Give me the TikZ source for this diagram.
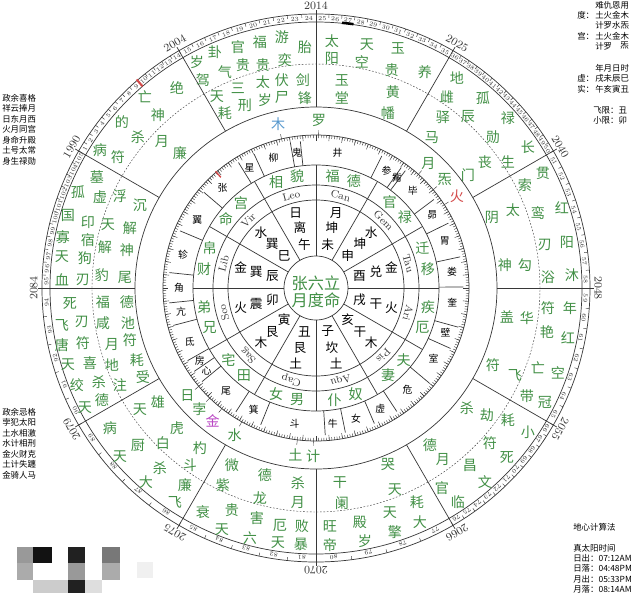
\documentclass[tikz,border=0pt]{standalone}
\usepackage{fontspec}
\newfontfamily\cjk{Noto Sans CJK SC}
\definecolor{sgreen}{RGB}{66,144,70}
\definecolor{sblue}{RGB}{86,152,206}
\definecolor{sred}{RGB}{212,74,74}
\definecolor{spink}{RGB}{186,72,196}
\definecolor{sline}{RGB}{55,55,55}

\tikzset{
  hstar/.style={inner sep=0pt, text=sgreen, font=\cjk\fontsize{10}{10}\selectfont},
  gong/.style={inner sep=0pt, text=sgreen, font=\cjk\fontsize{10}{10}\selectfont},
  yao/.style={inner sep=0pt, font=\cjk\fontsize{10}{10}\selectfont},
  inring/.style={inner sep=0pt, text=black, font=\cjk\fontsize{9}{9}\selectfont},
  xiu/.style={inner sep=0pt, text=black, font=\cjk\fontsize{7}{7}\selectfont},
  zod/.style={inner sep=0pt, font=\fontsize{7.5}{7.5}\selectfont},
  yearlab/.style={inner sep=0pt, font=\fontsize{8}{8}\selectfont},
  agenum/.style={inner sep=0pt, font=\fontsize{4.3}{4.3}\selectfont},
  note/.style={inner sep=0pt, anchor=west, text=black, font=\cjk\fontsize{6}{6}\selectfont},
  ring/.style={draw=sline, line width=0.5pt},
  hair/.style={draw=sline, line width=0.3pt},
}

\begin{document}
\begin{tikzpicture}[x=0.025cm, y=0.025cm, text=sline]
\useasboundingbox (-316,-313) rectangle (324,288);
\fill[white] (-316,-313) rectangle (324,288);

\foreach \rr in {274,266,181,153,123,103,88,32}
  \draw[ring] (0,0) circle[radius=\rr];
\draw[hair, dash pattern=on 1.2pt off 1.2pt] (0,0) circle[radius=224];
\foreach \ang in {0,30,...,330} {
  \draw[ring] (\ang:181) -- (\ang:278);
  \draw[ring] (\ang:32) -- (\ang:123);
}

\foreach \segS/\ageA/\ageB in {150/1/14,120/15/24,90/25/35,60/36/50,30/51/58,0/59/65,-30/66/76,-60/77/80,-90/81/85,-120/86/89,-150/90/94,-180/95/105}{
  \pgfmathsetmacro\cw{30/(\ageB-\ageA+1)}
  \foreach \ag in {\ageA,...,\ageB}{
    \pgfmathsetmacro\bnd{\segS-(\ag-\ageA)*\cw}
    \draw[hair] (\bnd:270.5) -- (\bnd:274);
    \node[agenum, rotate={\bnd-\cw/2-90}] (age\ag) at ({\bnd-\cw/2}:269.6) {\ag};
  }
}
\foreach \ang/\yr [count=\i] in {150/1990,120/2004,90/2014,60/2025,30/2040,0/2048,-30/2055,-60/2066,-90/2070,-120/2075,-150/2079,180/2084}
  \node[yearlab, anchor=south, rotate=\ang-90] (year\i) at (\ang:278) {\yr};
\draw[sred, line width=1.5pt] (130.7:266) -- (130.7:275);
\draw[black, line width=1.8pt] (84.4:266.5) arc[start angle=84.4, end angle=81.9, radius=266.5];

\foreach \ang in {0,...,359}
  \draw[hair] (\ang:153) -- (\ang:150);
\foreach \ang in {0,5,...,355}
  \draw[hair] (\ang:153) -- (\ang:147.5);
\foreach \ang in {174,185.8,194.7,209.5,214.4,219.4,237.1,248,273.6,281.5,293.3,303.2,320,335.8,344.6,0.4,12.2,26.1,36.9,52.7,54.7,63.5,96.1,100,114.8,121.7,139.5,157.2}
  \draw[ring] (\ang:123) -- (\ang:147.5);
\draw[sred, line width=1pt] (130.7:146) -- (130.7:154);
\foreach \ang/\ch [count=\i] in {81/井,98/鬼,108/柳,119/星,133/张,150/翼,166/轸,180/角,190/亢,203/氐,212/房,217/心,229/尾,243/箕,261/斗,277/牛,287/女,298/虚,312/危,329/室,341/壁,354/奎,7/娄,20/胃,32/昴,45/毕,53.7/觜,59/参}
  \node[xiu] (xiu\i) at (\ang:137) {\ch};

\foreach \ang/\ch/\col [count=\i] in {89/罗/sgreen,103/木/sblue,48/月/sgreen,40/炁/sgreen,33/火/sred,-91/计/sgreen,-97/土/sgreen,-119/水/sgreen,-128/金/spink,-134/孛/sgreen,-140/日/sgreen}{
  \draw[hair] (\ang:153) -- (\ang:158);
  \node[yao, text=\col] (yao\i) at (\ang:168) {\ch};
}

\foreach \ang/\zhi/\gua/\xing [count=\i] in {105/午/离/日,75/未/坤/月,45/申/坤/水,15/酉/兑/金,-15/戌/干/火,-45/亥/干/木,-75/子/坎/土,-105/丑/艮/土,-135/寅/艮/木,-165/卯/震/火,165/辰/巽/金,135/巳/巽/水}{
  \node[inring] (zhi\i) at (\ang:45) {\zhi};
  \node[inring] (gua\i) at (\ang:62) {\gua};
  \node[inring] (xing\i) at (\ang:78) {\xing};
}
\foreach \ang/\zz [count=\i] in {105/Leo,75/Can,45/Gem,15/Tau,-15/Ari,-45/Pis,-75/Aqu,-105/Cap,-135/Sag,-165/Sco,165/Lib,135/Vir}
  \node[zod, rotate=\ang-90] (zod\i) at (\ang:95.5) {\zz};
\foreach \ang/\ca/\cb [count=\i] in {137/命/宫,165/财/帛,195/兄/弟,225/田/宅,255/男/女,285/奴/仆,315/夫/妻,345/疾/厄,15/迁/移,44/官/禄,76/福/德,105/相/貌}{
  \node[gong] (gongA\i) at ({\ang+5.5}:113.5) {\ca};
  \node[gong] (gongB\i) at ({\ang-5.5}:113.5) {\cb};
}
\node[hstar, font=\cjk\fontsize{11.5}{11.5}\selectfont] (ming1) at (0,5) {张六立};
\node[hstar, font=\cjk\fontsize{11.5}{11.5}\selectfont] (ming2) at (0,-12) {月度命};

\begin{scope}[shift={(-316,288)}, yscale=-1]
\foreach \x/\y/\ch [count=\i] in {
  197/62/岁, 203/80/驾, 215/52/卦, 225/72/气, 238/47/官, 243/65/贵, 260/42/福, 263/65/贵, 282/37/游, 285/60/奕, 305/47/胎,
  217/97/天, 225/113/耗, 238/88/三, 245/105/刑, 263/82/太, 265/100/岁, 282/80/伏, 282/97/尸, 303/80/剑, 305/98/锋,
  332/41/太, 332/58/阳, 367/45/天, 362/62/空, 398/48/玉, 392/70/贵, 425/72/养,
  342/80/玉, 342/98/堂, 393/92/黄, 388/113/幡,
  457/78/地, 447/97/雌, 483/98/孤, 468/117/辰, 508/118/禄, 493/137/勋, 528/147/长, 508/162/生,
  443/117/驿, 432/138/马, 485/162/丧, 468/175/门,
  543/173/贯, 525/185/索, 562/208/红, 538/213/鸾, 567/242/阳, 545/245/刃, 572/275/沐, 548/277/浴,
  513/210/太, 492/217/阴, 525/265/勾, 505/265/神,
  570/308/年, 548/308/符, 568/338/红, 547/332/艳, 558/373/空, 538/368/亡, 545/402/冠, 527/396/带,
  527/318/华, 507/317/盖, 515/375/飞, 493/365/符,
  528/432/小, 508/420/耗, 507/457/死, 490/443/符, 485/482/文, 470/465/昌, 458/502/临, 442/488/官,
  487/415/劫, 467/408/杀, 443/460/月, 430/445/德,
  420/522/大, 417/502/耗, 395/532/擎, 390/513/天, 365/541/岁, 360/522/殿, 330/545/帝, 330/526/旺,
  395/490/天, 388/465/哭, 342/503/阑, 340/483/干,
  301/544/暴, 302/526/败, 278/543/天, 280/525/厄, 250/538/六, 257/518/害, 222/530/天, 232/510/贵, 203/512/衰,
  298/503/月, 298/483/杀, 260/498/龙, 265/475/德, 223/485/紫, 232/465/微,
  175/502/飞, 185/485/廉, 146/482/大, 160/468/杀, 120/457/天, 138/445/厨, 110/428/病,
  190/465/斗, 200/448/杓, 163/443/白, 177/428/虎, 140/410/天, 158/402/雄,
  85/408/天, 102/400/德, 77/385/绞, 99/382/杀, 68/365/天, 90/363/喜, 62/345/唐, 83/343/符, 62/325/飞, 82/322/刃, 70/303/死,
  120/385/注, 143/377/受, 112/365/地, 137/360/耗, 112/345/月, 130/340/符, 103/323/咸, 128/323/池, 103/302/福, 127/302/德,
  97/177/墓, 78/192/孤, 100/197/虚, 68/215/国, 88/222/印, 63/237/寡, 88/240/宿, 62/257/天, 85/258/狗, 62/280/血, 83/280/刃,
  120/196/浮, 140/205/沉, 108/225/天, 130/228/解, 105/247/解, 127/250/神, 102/275/豹, 125/277/尾,
  177/88/绝, 145/97/亡, 158/115/神, 122/122/的, 138/137/杀, 100/150/病, 118/157/符,
  162/142/月, 180/153/廉}
  \node[hstar] (hs\i) at (\x,\y) {\ch};

\foreach \x/\y/\ch [count=\i] in {
  2/98/政余喜格, 2/108.5/祥云捧月, 2/119/日东月西, 2/129.5/火月同宫, 2/140/身命升殿, 2/150.5/土号太常, 2/161/身生禄勋,
  2/412/政余忌格, 2/422.5/孛犯太阳, 2/433/土水相激, 2/443.5/水计相刑, 2/454/金火财克, 2/464.5/土计失躔, 2/475/金骑人马,
  595/5/难仇恩用, 577/15/度：, 595/15/土火金木, 595/25/计罗水炁, 577/36/宫：, 595/36/土火金木, 595/46/计罗, 620/46/炁,
  595/68/年月日时, 577/78/虚：, 595/78/戌未辰巳, 577/89/实：, 595/89/午亥寅丑, 593/110/飞限：丑, 593/120/小限：卯,
  573/527/地心计算法, 573/548/真太阳时间, 573/558/日出：07:12AM, 573/568.5/日落：04:48PM, 573/579/月出：05:33PM, 573/589/月落：08:14AM}
  \node[note] (note\i) at (\x,\y) {\ch};

\foreach \xa/\ya/\xb/\yb/\sh in {17/547/33/563/40, 33/547/52/563/93, 68/547/85/563/87, 102/547/120/563/53,
  17/563/33/580/33, 68/563/85/580/40, 102/563/120/580/33,
  33/580/52/593/20, 52/580/68/593/20, 68/580/85/593/87, 85/580/102/593/13, 137/562/153/578/6}
  \fill[black!\sh] (\xa,\ya) rectangle (\xb,\yb);
\end{scope}
\end{tikzpicture}
\end{document}
